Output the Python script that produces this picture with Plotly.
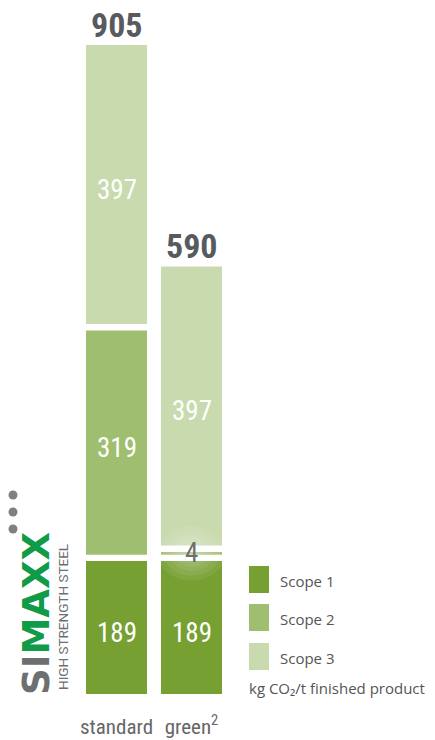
import plotly.graph_objects as go

# ---- data ----
categories = ["standard", "green<sup>2</sup>"]
scope_names = ["Scope 1", "Scope 2", "Scope 3"]
scope1 = [189, 189]
scope2 = [319, 4]
scope3 = [397, 397]
totals = [905, 590]
unit_label = "kg CO₂/t finished product"

colors = ["#77a033", "#a0be70", "#c9daae"]
OFF = 8                     # page body margin
W, H = 435 - OFF, 740 - OFF
BOTTOM_PAGE = 694
PLOT_H = BOTTOM_PAGE - OFF
MB = H - PLOT_H
K = 0.7032           # px per unit
GAP = 9              # white separator, in data units
YMAX = PLOT_H / K
XPX = 75.0           # px per category step
X0PX = 116.5 - OFF   # px position of first bar centre (figure coords)
xs = [0, 1]

NARROW = "Liberation Sans Narrow, Roboto Condensed, DejaVu Sans Condensed, Arial Narrow, sans-serif"

fig = go.Figure()
series = [scope1, scope2, scope3]
bases = []
cur = [0, 0]
for i, vals in enumerate(series):
    b = list(cur)
    bases.append(b)
    fig.add_trace(go.Bar(x=xs, y=vals, base=b, width=0.813, marker=dict(color=colors[i], line=dict(width=0)),
                         name=scope_names[i], showlegend=False, hoverinfo="skip"))
    cur = [cur[j] + vals[j] + GAP for j in range(2)]

annotations = []
shapes = []
# glow around the small value
gx, gy = xs[1], bases[1][1] + scope2[1] / 2
for r in [34, 28, 22, 17, 12, 8]:
    shapes.append(dict(type="circle", xref="x", yref="y", xsizemode="pixel", ysizemode="pixel",
                       xanchor=gx, yanchor=gy, x0=-r, x1=r, y0=-r * 0.8, y1=r * 0.8,
                       fillcolor="rgba(255,255,255,0.07)", line=dict(width=0), layer="above"))

# segment labels
for i, vals in enumerate(series):
    for j in range(2):
        v = vals[j]
        yc = bases[i][j] + v / 2
        small = v < 20
        annotations.append(dict(x=xs[j], y=yc, xref="x", yref="y", text=str(v), showarrow=False,
                                yshift=-5 if not small else 0,
                                font=dict(family=NARROW, size=27,
                                          color="#ffffff" if not small else "#6e6e6e")))
# totals
for j in range(2):
    top = cur[j] - GAP
    annotations.append(dict(x=xs[j], y=top, xref="x", yref="y", text="<b>%d</b>" % totals[j],
                            showarrow=False, yanchor="bottom", yshift=-2,
                            font=dict(family=NARROW, size=34, color="#575a5e")))

def px_x(p):
    return (p - OFF) / W

def px_y(p):
    return (PLOT_H - (p - OFF)) / PLOT_H

# legend
leg_tops = [566, 604, 643]
for i in range(3):
    shapes.append(dict(type="rect", xref="paper", yref="paper", x0=px_x(249), x1=px_x(269),
                       y0=px_y(leg_tops[i] + 27), y1=px_y(leg_tops[i]), fillcolor=colors[i],
                       line=dict(width=0)))
    annotations.append(dict(x=px_x(278), y=px_y(leg_tops[i] + 14.5), xref="paper", yref="paper",
                            text=scope_names[i], showarrow=False, xanchor="left", yanchor="middle",
                            font=dict(family="Open Sans, sans-serif", size=15, color="#555555")))
annotations.append(dict(x=px_x(247), y=px_y(688), xref="paper", yref="paper", text=unit_label,
                        showarrow=False, xanchor="left", yanchor="middle",
                        font=dict(family="Open Sans, sans-serif", size=15, color="#555555")))

# logo
for cy in [495, 512, 529]:
    shapes.append(dict(type="circle", xref="paper", yref="paper", x0=px_x(8.5), x1=px_x(17.5),
                       y0=px_y(cy + 4.5), y1=px_y(cy - 4.5), fillcolor="#7f8083", line=dict(width=0)))
annotations.append(dict(x=px_x(36), y=px_y(614), xref="paper", yref="paper", textangle=-90,
                        text="<span style='color:#6d6e71'><b>SI</b></span><span style='color:#109b48'><b>MAXX</b></span>",
                        showarrow=False, xanchor="center", yanchor="middle",
                        font=dict(family="DejaVu Sans, sans-serif", size=37)))
annotations.append(dict(x=px_x(63), y=px_y(617), xref="paper", yref="paper", textangle=-90,
                        text="HIGH STRENGTH STEEL", showarrow=False, xanchor="center", yanchor="middle",
                        font=dict(family="Roboto, sans-serif", size=13.5, color="#6d6e71")))

xr0 = -X0PX / XPX
fig.update_layout(
    width=W, height=H,
    margin=dict(l=0, r=0, t=0, b=MB, pad=0),
    paper_bgcolor="white", plot_bgcolor="white",
    barmode="overlay",
    showlegend=False,
    annotations=annotations,
    shapes=shapes,
    xaxis=dict(range=[xr0, xr0 + W / XPX], tickvals=xs, ticktext=categories, showgrid=False,
               zeroline=False, showline=False, ticks="outside", ticklen=14, tickcolor="rgba(0,0,0,0)",
               tickfont=dict(family=NARROW, size=21, color="#666666"), fixedrange=True),
    yaxis=dict(range=[0, YMAX], visible=False, fixedrange=True),
)
fig.write_html("out.html")
